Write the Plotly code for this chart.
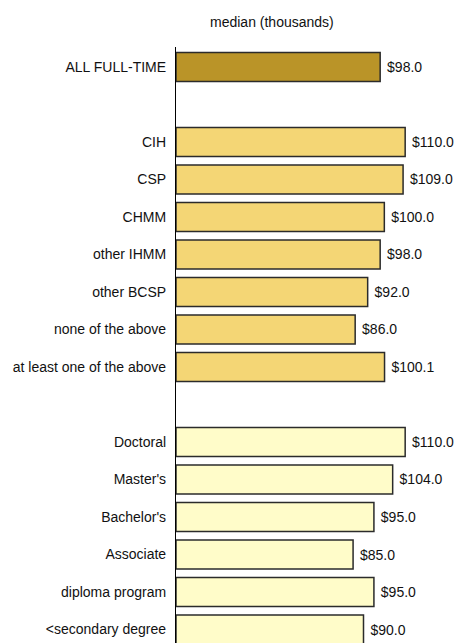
import plotly.graph_objects as go

# ---- data ----
overall_labels = ["ALL FULL-TIME"]
overall_values = [98.0]

cert_labels = ["CIH", "CSP", "CHMM", "other IHMM", "other BCSP",
               "none of the above", "at least one of the above"]
cert_values = [110.0, 109.0, 100.0, 98.0, 92.0, 86.0, 100.1]

edu_labels = ["Doctoral", "Master's", "Bachelor's", "Associate",
              "diploma program", "<secondary degree"]
edu_values = [110.0, 104.0, 95.0, 85.0, 95.0, 90.0]

title_text = "median (thousands)"

# ---- layout of categories (spacers between groups) ----
category_order = overall_labels + [" "] + cert_labels + ["  "] + edu_labels

FONT = "Liberation Sans, Arial, sans-serif"

fig = go.Figure()
groups = [
    (overall_labels, overall_values, "#BA9428"),
    (cert_labels, cert_values, "#F4D675"),
    (edu_labels, edu_values, "#FFFCC9"),
]
for labels, values, color in groups:
    fig.add_trace(go.Bar(
        y=labels, x=values, orientation="h",
        marker=dict(color=color, line=dict(color="#2b2b2b", width=1.5)),
        texttemplate=" $%{x:.1f}", textposition="outside",
        textfont=dict(family=FONT, size=14, color="#111"),
        cliponaxis=False, showlegend=False, hoverinfo="skip",
    ))

fig.update_layout(
    width=456, height=643,
    margin=dict(l=176, r=0, t=47, b=0),
    paper_bgcolor="white", plot_bgcolor="white",
    bargap=0.23,
    font=dict(family=FONT, size=14, color="#111"),
    xaxis=dict(range=[0, 134.4], visible=False, fixedrange=True),
    yaxis=dict(
        type="category", categoryorder="array", categoryarray=category_order,
        range=[15.36, -0.533], automargin=False,
        showline=True, linecolor="black", linewidth=1.2,
        showgrid=False, zeroline=False, ticks="",
        ticklabelstandoff=6,
        tickfont=dict(family=FONT, size=14, color="#111"),
    ),
    annotations=[dict(
        text=title_text, xref="paper", yref="paper",
        x=0.343, y=1, yshift=25, xanchor="center", yanchor="middle",
        showarrow=False, font=dict(family=FONT, size=14, color="#111"),
    )],
)

fig.write_html(
    "out.html",
    config={"displayModeBar": False},
    post_script="document.body.style.margin='0';document.body.style.overflow='hidden';",
)
